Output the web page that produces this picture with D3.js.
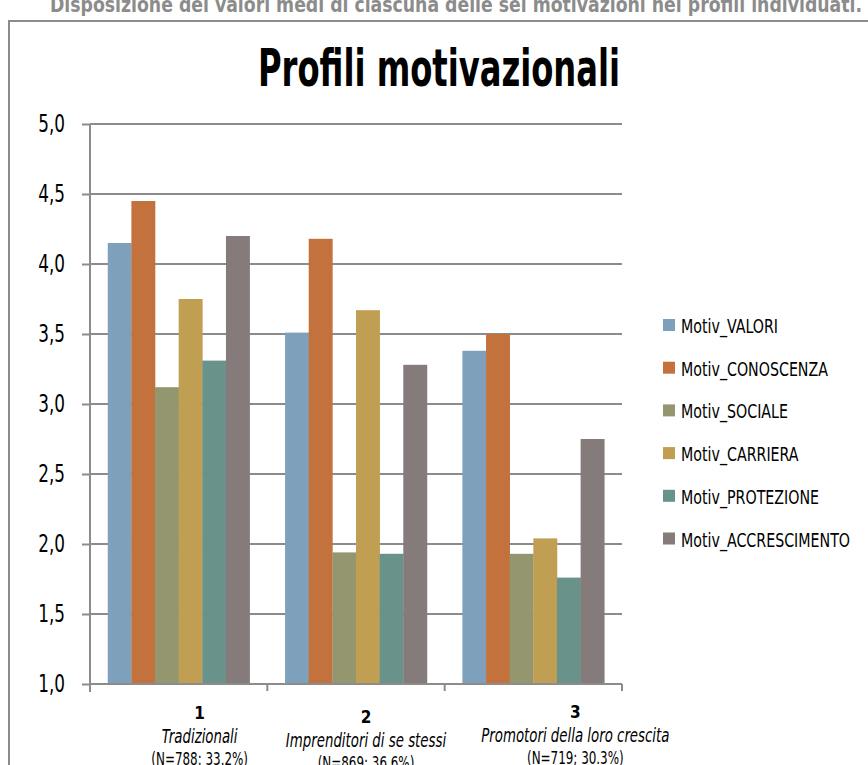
<!DOCTYPE html>
<html lang="it">
<head>
<meta charset="UTF-8">
<title>Profili motivazionali</title>
<style>
  html, body { margin: 0; padding: 0; background: #fff; overflow: hidden; }
  text { font-family: "Liberation Sans Narrow", "DejaVu Sans Condensed", "Roboto", sans-serif; font-stretch: condensed; }
</style>
</head>
<body>
<svg id="chart" width="868" height="765"></svg>
<script src="https://cdnjs.cloudflare.com/ajax/libs/d3/7.8.5/d3.min.js"></script>
<script>

// data
var categories = ["1", "2", "3"];
var categoryNames = ["Tradizionali", "Imprenditori di se stessi", "Promotori della loro crescita"];
var categoryCounts = ["(N=788; 33.2%)", "(N=869; 36.6%)", "(N=719; 30.3%)"];
var seriesNames = ["Motiv_VALORI", "Motiv_CONOSCENZA", "Motiv_SOCIALE", "Motiv_CARRIERA", "Motiv_PROTEZIONE", "Motiv_ACCRESCIMENTO"];
var motivValori       = [4.15, 3.51, 3.38];
var motivConoscenza   = [4.45, 4.18, 3.50];
var motivSociale      = [3.12, 1.94, 1.93];
var motivCarriera     = [3.75, 3.67, 2.04];
var motivProtezione   = [3.31, 1.93, 1.76];
var motivAccrescimento= [4.20, 3.28, 2.75];
var yTicks = [1, 1.5, 2, 2.5, 3, 3.5, 4, 4.5, 5];

var seriesValues = [motivValori, motivConoscenza, motivSociale, motivCarriera, motivProtezione, motivAccrescimento];
var colours = ["#7fa0ba", "#c3723d", "#93966f", "#c09e52", "#69928a", "#847b7a"];

var svg = d3.select("#chart");
var grey = "#8c8c8c";

var plotLeft = 90, plotRight = 622, plotTop = 124, plotBottom = 684;

var x = d3.scaleBand().domain(categories).range([plotLeft, plotRight]);
var xInner = d3.scaleBand().domain(seriesNames).range([0, x.bandwidth()]).paddingInner(0).paddingOuter(0.75);
var y = d3.scaleLinear().domain([1, 5]).range([plotBottom, plotTop]);
var colour = d3.scaleOrdinal().domain(seriesNames).range(colours);
var fmt = function (d) { return d3.format(".1f")(d).replace(".", ","); };

// the original font is very narrow, so squeeze the fallback font sideways
function squeeze(sel, k) {
  sel.each(function () {
    var w = this.getComputedTextLength();
    d3.select(this).attr("textLength", w * k).attr("lengthAdjust", "spacingAndGlyphs");
  });
}

// subtitle (partly cut off at the top)
svg.append("text")
  .attr("x", 50).attr("y", 12)
  .attr("font-size", 21).attr("font-weight", "bold")
  .attr("fill", "#8c8c8c")
  .attr("textLength", 812).attr("lengthAdjust", "spacingAndGlyphs")
  .text("Disposizione dei valori medi di ciascuna delle sei motivazioni nei profili individuati.");

// outer frame
svg.append("rect")
  .attr("x", 9).attr("y", 21)
  .attr("width", 900).attr("height", 800)
  .attr("fill", "none").attr("stroke", grey).attr("stroke-width", 2);

// title
svg.append("text")
  .attr("x", 439).attr("y", 86)
  .attr("text-anchor", "middle")
  .attr("font-size", 52).attr("font-weight", "bold")
  .attr("textLength", 362).attr("lengthAdjust", "spacingAndGlyphs")
  .text("Profili motivazionali");

// gridlines
svg.append("g")
  .selectAll("line")
  .data(yTicks.slice(1))
  .join("line")
  .attr("x1", plotLeft).attr("x2", plotRight)
  .attr("y1", function (d) { return y(d); })
  .attr("y2", function (d) { return y(d); })
  .attr("stroke", grey).attr("stroke-width", 2);

// bars
var groups = svg.append("g")
  .selectAll("g")
  .data(categories)
  .join("g")
  .attr("transform", function (d) { return "translate(" + x(d) + ",0)"; });

groups.selectAll("rect")
  .data(function (d, i) {
    return seriesNames.map(function (s, j) { return { key: s, value: seriesValues[j][i] }; });
  })
  .join("rect")
  .attr("x", function (d) { return xInner(d.key); })
  .attr("width", xInner.bandwidth() + 0.3)
  .attr("y", function (d) { return y(d.value); })
  .attr("height", function (d) { return y(1) - y(d.value); })
  .attr("fill", function (d) { return colour(d.key); });

// y axis
var yAxis = svg.append("g")
  .attr("transform", "translate(" + plotLeft + ",0)")
  .call(d3.axisLeft(y).tickValues(yTicks).tickFormat(fmt).tickSize(8).tickPadding(17));
yAxis.select(".domain").attr("stroke", grey).attr("stroke-width", 2).attr("d", "M0," + (plotBottom + 8) + "V" + plotTop);
yAxis.selectAll(".tick line").attr("stroke", grey).attr("stroke-width", 2);
yAxis.selectAll(".tick text")
  .attr("font-size", 24).attr("fill", "#000")
  .attr("font-family", null)
  .call(squeeze, 0.78);

// x axis
var xAxis = svg.append("g")
  .attr("transform", "translate(0," + plotBottom + ")")
  .call(d3.axisBottom(x).tickSize(0).tickFormat(""));
xAxis.select(".domain").attr("stroke", grey).attr("stroke-width", 2).attr("d", "M" + plotLeft + ",0H" + plotRight);
xAxis.selectAll(".tick").remove();
xAxis.selectAll("line.sep")
  .data([plotLeft, plotRight].concat(categories.slice(1).map(function (c) { return x(c); })))
  .join("line")
  .attr("class", "sep")
  .attr("x1", function (d) { return d; }).attr("x2", function (d) { return d; })
  .attr("y1", 0).attr("y2", 7)
  .attr("stroke", grey).attr("stroke-width", 2);

// category labels (Excel placed them a little off the band centres)
var labelShiftX = [21, 10, 42];
var labelShiftY = [0, 4, -1];
var labels = svg.append("g")
  .selectAll("g")
  .data(categories)
  .join("g")
  .attr("transform", function (d, i) {
    return "translate(" + (x(d) + x.bandwidth() / 2 + labelShiftX[i]) + "," + labelShiftY[i] + ")";
  })
  .attr("text-anchor", "middle");
labels.append("text")
  .attr("y", 719).attr("font-size", 17).attr("font-weight", "bold")
  .text(function (d) { return d; });
labels.append("text")
  .attr("y", 743).attr("font-size", 19).attr("font-style", "italic")
  .text(function (d, i) { return categoryNames[i]; })
  .call(squeeze, 0.78);
labels.append("text")
  .attr("y", 765).attr("font-size", 17)
  .text(function (d, i) { return categoryCounts[i]; })
  .call(squeeze, 0.78);

// legend
var legend = svg.append("g")
  .selectAll("g")
  .data(seriesNames)
  .join("g")
  .attr("transform", function (d, i) { return "translate(663," + (319 + i * 42.7) + ")"; });
legend.append("rect")
  .attr("width", 12).attr("height", 12)
  .attr("fill", function (d) { return colour(d); });
legend.append("text")
  .attr("x", 18).attr("y", 14)
  .attr("font-size", 20)
  .text(function (d) { return d; })
  .call(squeeze, 0.79);

</script>
</body>
</html>
